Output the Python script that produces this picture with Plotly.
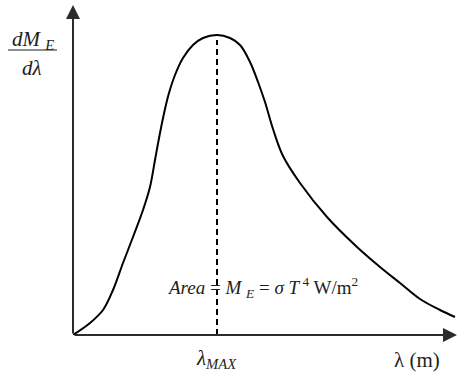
import plotly.graph_objects as go

# Spectral exitance curve (arbitrary units)
wavelength = [0, 1.7, 3.0, 4.0, 5.0, 6.0, 7.0, 7.7, 8.2, 8.7, 9.2, 9.6, 10.2,
              11.0, 12.0, 13.0, 14.4, 15.7, 16.7, 17.7, 18.5, 19.2, 20.0, 21.0,
              22.7, 25.4, 28.4, 30.7, 32.7, 34.7, 36.7, 38.2]
exitance = [0, 1.2, 2.5, 4.5, 7.2, 9.8, 12.5, 14.8, 17.5, 20.2, 22.6, 24.2, 26.0,
            27.7, 29.0, 29.7, 30.0, 29.7, 29.0, 27.3, 25.3, 23.3, 20.6, 17.9,
            15.2, 11.8, 8.8, 6.8, 5.2, 3.6, 2.5, 1.8]
lambda_max = 14.4
peak_value = 30.0

X_END, Y_END = 38.4, 33.0
W, H = 458, 375
ML, MR, MT, MB = 73, 1, 5, 40
SERIF = "Liberation Serif, Times New Roman, serif"
AXIS_COLOR = "#2b2b2b"
TEXT_COLOR = "#1e1e1e"


def paper_x(px):
    return (px - ML) / (W - ML - MR)


def paper_y(py):
    return (H - MB - py) / (H - MT - MB)


fig = go.Figure()

# dashed line marking the peak wavelength
fig.add_trace(go.Scatter(
    x=[lambda_max, lambda_max], y=[0, peak_value - 0.5],
    mode="lines", line=dict(color="black", width=2, dash="6px,4px"),
    hoverinfo="skip", showlegend=False, cliponaxis=False))

# the spectral curve
fig.add_trace(go.Scatter(
    x=wavelength, y=exitance, mode="lines",
    line=dict(color="black", width=2, shape="spline", smoothing=1.0),
    showlegend=False, cliponaxis=False))


def label(px, py, text, size=20):
    return dict(x=paper_x(px), y=paper_y(py), xref="paper", yref="paper",
                text=text, showarrow=False,
                font=dict(family=SERIF, size=size, color=TEXT_COLOR),
                xanchor="center", yanchor="middle")


annotations = [
    # axis arrows
    dict(x=X_END, y=0, ax=0, ay=0, xref="x", yref="y", axref="x", ayref="y",
         text="", showarrow=True, arrowhead=2, arrowsize=1.4, arrowwidth=2,
         arrowcolor=AXIS_COLOR),
    dict(x=0, y=Y_END, ax=0, ay=0, xref="x", yref="y", axref="x", ayref="y",
         text="", showarrow=True, arrowhead=2, arrowsize=1.4, arrowwidth=2,
         arrowcolor=AXIS_COLOR),
    # y-axis label as a fraction
    label(33, 40, "<i>dM</i> <sub><i>E</i></sub>", 21),
    label(32, 68, "<i>dλ</i>", 21),
    # x-axis labels
    label(216, 359, "<i>λ</i><sub><i>MAX</i></sub>", 21),
    label(417, 360, "λ (m)", 21),
    # total exitance
    label(262, 287,
          "<i>Area</i> = <i>M</i> <sub><i>E</i></sub> = <i>σ T</i><sup> 4</sup> W/m<sup>2</sup>",
          19),
]

shapes = [
    dict(type="line", xref="paper", yref="paper",
         x0=paper_x(8), x1=paper_x(57), y0=paper_y(50), y1=paper_y(50),
         line=dict(color=TEXT_COLOR, width=1.2)),
]

fig.update_layout(
    width=W, height=H,
    margin=dict(l=ML, r=MR, t=MT, b=MB),
    paper_bgcolor="white", plot_bgcolor="white",
    xaxis=dict(range=[0, X_END], visible=False, fixedrange=True),
    yaxis=dict(range=[0, Y_END], visible=False, fixedrange=True),
    annotations=annotations, shapes=shapes,
    showlegend=False,
)

fig.write_html("out.html")
